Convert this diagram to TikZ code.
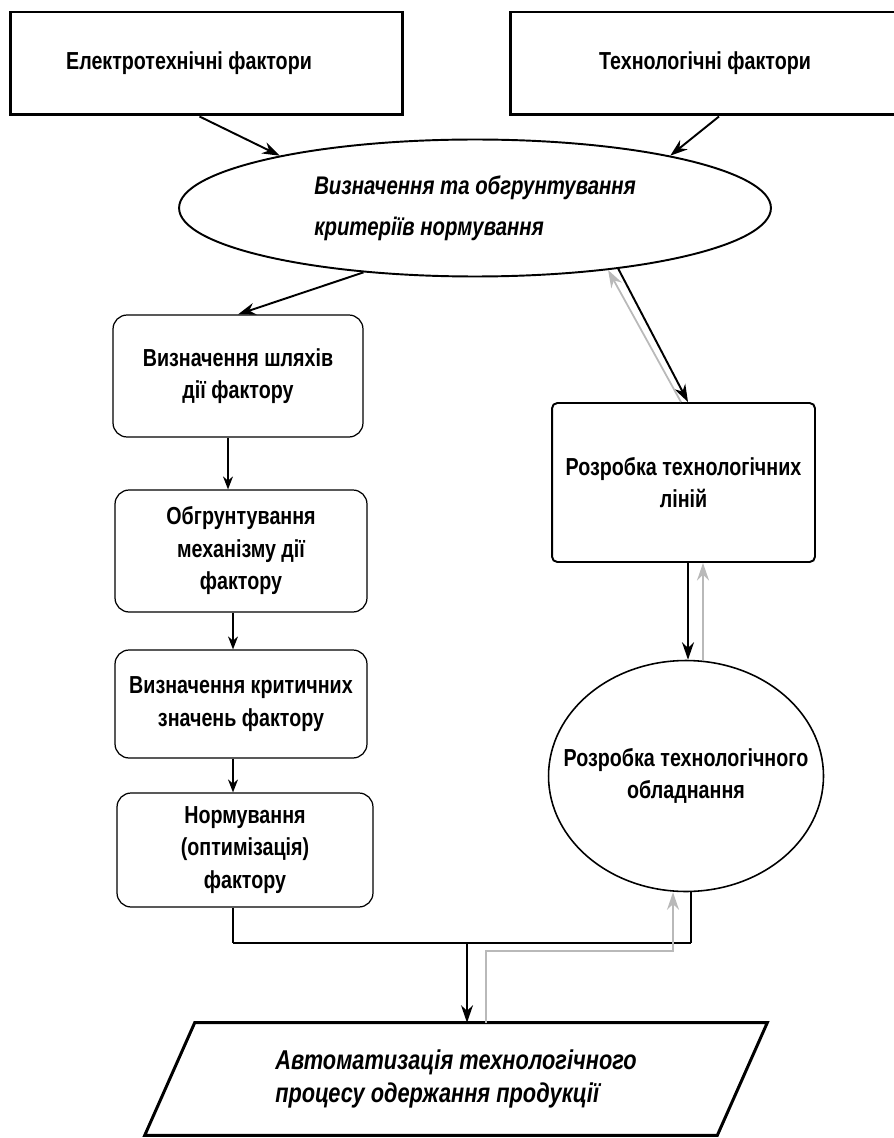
\documentclass[tikz,border=0pt]{standalone}
\usepackage{fontspec}
\setmainfont{Liberation Sans}[FakeStretch=0.8]
\usetikzlibrary{shapes.geometric, arrows.meta, positioning}

\begin{document}
\begin{tikzpicture}[
    x=0.02cm, y=-0.02cm,
    factor/.style={rectangle, draw, line width=1.7pt, minimum width=7.86cm, minimum height=2.06cm, align=center, font=\bfseries\fontsize{14}{18.5}\selectfont},
    stage/.style={rectangle, draw, rounded corners=8pt, line width=0.7pt, minimum width=5.04cm, align=center, font=\bfseries\fontsize{14}{18.5}\selectfont},
    dev/.style={draw, line width=1.1pt, inner sep=0pt, align=center, font=\bfseries\fontsize{14}{18.5}\selectfont},
    goal/.style={align=left, font=\bfseries\itshape\fontsize{15.5}{18.7}\selectfont},
    arrow/.style={-{Stealth[length=3.5mm, width=2.4mm]}, line width=1.1pt},
    flow/.style={-{Stealth[length=2.6mm, width=2mm]}, line width=0.8pt},
    back/.style={-{Stealth[length=3.5mm, width=2.4mm]}, line width=1pt, gray!55},
    bus/.style={line width=1.6pt}
]
    \useasboundingbox (0,0) rectangle (893,1138);

    % factors
    \node[factor] (elfact) at (206.5,63.5) {Електротехнічні фактори\hspace*{0.7cm}};
    \node[factor, minimum width=7.8cm] (techfact) at (705,63.5) {Технологічні фактори};
    \node[ellipse, draw, line width=1.1pt, minimum width=11.84cm, minimum height=2.74cm, inner sep=0pt, align=left, font=\bfseries\itshape\fontsize{14.5}{23.5}\selectfont] (criteria) at (475,208) {Визначення та обгрунтування\\критеріїв нормування};

    % left chain
    \node[stage, minimum width=5cm, minimum height=2.44cm] (stA) at (238,376) {Визначення шляхів\\дії фактору};
    \node[stage, minimum height=2.44cm] (stB) at (241,551) {Обгрунтування\\механізму дії\\фактору};
    \node[stage, minimum height=2.16cm] (stC) at (241,704) {Визначення критичних\\значень фактору};
    \node[stage, minimum width=5.12cm, minimum height=2.28cm] (stD) at (245,850) {Нормування\\(оптимізація)\\фактору};

    % right chain
    \node[dev, rectangle, rounded corners=3pt, minimum width=5.26cm, minimum height=3.18cm] (lines) at (683.5,482.5) {Розробка технологічних\\ліній};
    \node[dev, ellipse, line width=0.9pt, inner xsep=-0.55cm, minimum width=5.5cm, minimum height=4.62cm] (equip) at (686,776) {Розробка технологічного\\обладнання};

    % result
    \node[goal, minimum width=11.44cm, minimum height=2.24cm] (auto) at (456,1079) {Автоматизація технологічного\\процесу одержання продукції};
    \draw[line width=1.7pt] ([xshift=0.5cm]auto.north west) -- ([xshift=0.5cm]auto.north east) -- ([xshift=-0.5cm]auto.south east) -- ([xshift=-0.5cm]auto.south west) -- cycle;

    \draw[arrow] ([xshift=-0.14cm]elfact.south) -- (criteria.165);
    \draw[arrow] ([xshift=0.28cm]techfact.south) -- (criteria.15);
    \draw[arrow] (criteria.210) -- (stA.north);
    \draw[arrow] (criteria.-23) -- ([xshift=0.09cm]lines.north);
    \draw[back] ([xshift=-0.05cm]lines.north) -- (criteria.-25);

    \draw[flow] ([xshift=-0.2cm]stA.south) -- ([xshift=-0.2cm]stA.south |- stB.north);
    \draw[flow] ([xshift=-0.16cm]stB.south) -- ([xshift=-0.16cm]stB.south |- stC.north);
    \draw[flow] ([xshift=-0.16cm]stC.south) -- ([xshift=-0.16cm]stC.south |- stD.north);

    \draw[arrow] ([xshift=0.09cm]lines.south) -- ([xshift=0.09cm]lines.south |- equip.north);
    \draw[back] ([xshift=0.39cm]lines.south |- equip.north) -- ([xshift=0.39cm]lines.south);

    % joining bus
    \coordinate (busL) at (233,943);
    \coordinate (busR) at (691,943);
    \coordinate (busM) at (467,943);
    \coordinate (ret) at (673,951);
    \draw[line width=0.8pt] (busL |- stD.south) -- (busL);
    \draw[bus] (busL) -- (busR);
    \draw[line width=0.8pt] (busR) -- (busR |- equip.south);
    \draw[arrow] (busM) -- (busM |- auto.north);
    \draw[back] ([xshift=0.6cm]auto.north) |- (ret) -- (ret |- equip.south);
\end{tikzpicture}
\end{document}
